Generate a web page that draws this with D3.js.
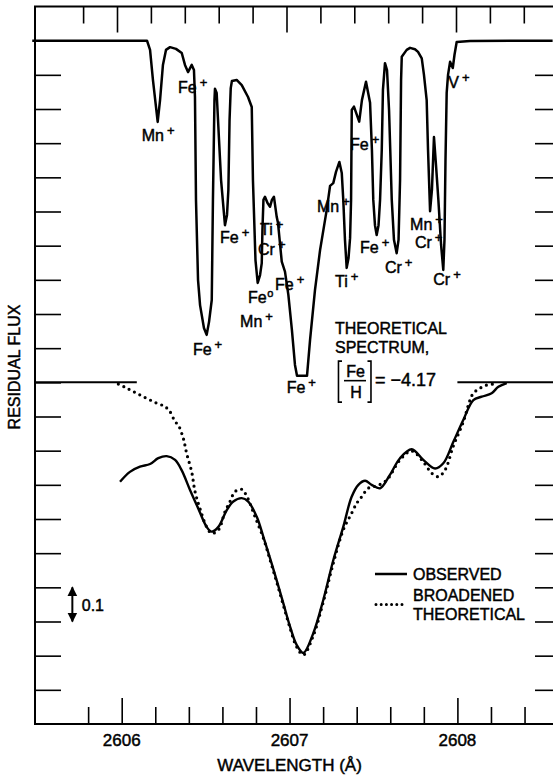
<!DOCTYPE html>
<html>
<head>
<meta charset="utf-8">
<script src="https://cdn.jsdelivr.net/npm/d3@7"></script>
<style>
  html, body { margin: 0; padding: 0; background: #fff; }
  svg { display: block; font-family: "Liberation Sans", Arial, Helvetica, sans-serif; }
  svg text { fill: #000; stroke: #000; stroke-width: 0.45px; }
</style>
</head>
<body>
<svg id="chart" width="553" height="775"></svg>
<script>
// ---- Theoretical spectrum, [Fe/H] = -4.17 (residual flux, drawn one unit higher) ----
const theoWave = [
  2605.50, 2606.177, 2606.195, 2606.212, 2606.240, 2606.254, 2606.271, 2606.289, 2606.313, 2606.348,
  2606.382, 2606.401, 2606.419, 2606.441, 2606.454, 2606.460, 2606.466, 2606.478, 2606.490, 2606.513,
  2606.529, 2606.543, 2606.559, 2606.566, 2606.575, 2606.578, 2606.588, 2606.602, 2606.614, 2606.637,
  2606.649, 2606.657, 2606.664, 2606.671, 2606.678, 2606.706, 2606.736, 2606.773, 2606.795, 2606.802,
  2606.817, 2606.830, 2606.844, 2606.854, 2606.858, 2606.864, 2606.873, 2606.888, 2606.903, 2606.914,
  2606.926, 2606.942, 2606.950, 2606.972, 2606.991, 2607.011, 2607.032, 2607.050, 2607.062, 2607.121,
  2607.139, 2607.168, 2607.198, 2607.237, 2607.257, 2607.276, 2607.292, 2607.312, 2607.326, 2607.335,
  2607.345, 2607.355, 2607.366, 2607.375, 2607.381, 2607.385, 2607.398, 2607.429, 2607.445, 2607.469,
  2607.493, 2607.504, 2607.512, 2607.522, 2607.532, 2607.543, 2607.552, 2607.562, 2607.569, 2607.581,
  2607.593, 2607.605, 2607.621, 2607.634, 2607.650, 2607.661, 2607.670, 2607.676, 2607.680, 2607.709,
  2607.729, 2607.758, 2607.776, 2607.798, 2607.811, 2607.827, 2607.835, 2607.847, 2607.858, 2607.870,
  2607.882, 2607.896, 2607.912, 2607.925, 2607.932, 2607.938, 2607.945, 2607.953, 2607.965, 2607.981,
  2607.991, 2608.004, 2608.083, 2608.57
];
const theoFlux = [
  1.000, 1.000, 0.973, 0.885, 0.762, 0.826, 0.929, 0.973, 0.981, 0.976,
  0.964, 0.929, 0.908, 0.929, 0.914, 0.835, 0.534, 0.300, 0.226, 0.159,
  0.139, 0.177, 0.241, 0.534, 0.826, 0.859, 0.847, 0.709, 0.592, 0.460,
  0.490, 0.563, 0.768, 0.861, 0.882, 0.885, 0.870, 0.835, 0.806, 0.592,
  0.358, 0.291, 0.314, 0.349, 0.446, 0.534, 0.543, 0.525, 0.514, 0.534,
  0.543, 0.485, 0.466, 0.353, 0.324, 0.256, 0.153, 0.051, 0.019, 0.019,
  0.124, 0.270, 0.387, 0.504, 0.575, 0.583, 0.616, 0.645, 0.613, 0.534,
  0.417, 0.335, 0.364, 0.422, 0.534, 0.797, 0.807, 0.763, 0.826, 0.880,
  0.818, 0.680, 0.534, 0.460, 0.431, 0.460, 0.534, 0.680, 0.856, 0.934,
  0.914, 0.797, 0.534, 0.417, 0.378, 0.417, 0.592, 0.885, 0.953, 0.973,
  0.979, 0.975, 0.967, 0.948, 0.900, 0.826, 0.680, 0.501, 0.563, 0.718,
  0.636, 0.534, 0.402, 0.329, 0.417, 0.651, 0.847, 0.900, 0.938, 0.920,
  0.958, 0.996, 0.999, 1.000
];

// ---- Observed spectrum ----
const obsWave = [
  2605.990, 2606.049, 2606.109, 2606.169, 2606.218, 2606.268, 2606.318, 2606.357, 2606.407, 2606.456,
  2606.506, 2606.536, 2606.576, 2606.626, 2606.665, 2606.715, 2606.754, 2606.804, 2606.844, 2606.884,
  2606.923, 2606.963, 2607.003, 2607.043, 2607.082, 2607.141, 2607.201, 2607.261, 2607.320, 2607.370,
  2607.410, 2607.450, 2607.489, 2607.539, 2607.598, 2607.658, 2607.728, 2607.797, 2607.867, 2607.916,
  2607.976, 2608.035, 2608.095, 2608.145, 2608.204, 2608.244, 2608.294
];
const obsFlux = [
  0.709, 0.738, 0.753, 0.761, 0.778, 0.784, 0.773, 0.743, 0.685, 0.631,
  0.577, 0.563, 0.577, 0.626, 0.651, 0.661, 0.651, 0.607, 0.548, 0.485,
  0.421, 0.353, 0.285, 0.231, 0.208, 0.265, 0.363, 0.480, 0.577, 0.665,
  0.700, 0.712, 0.700, 0.690, 0.729, 0.778, 0.804, 0.773, 0.748, 0.763,
  0.826, 0.890, 0.948, 0.958, 0.968, 0.987, 0.998
];

// ---- Broadened theoretical spectrum ----
const brdWave = [
  2605.980, 2606.030, 2606.089, 2606.149, 2606.209, 2606.258, 2606.288, 2606.318, 2606.337, 2606.367,
  2606.387, 2606.417, 2606.437, 2606.466, 2606.506, 2606.536, 2606.576, 2606.615, 2606.645, 2606.675,
  2606.715, 2606.745, 2606.794, 2606.844, 2606.884, 2606.923, 2606.963, 2607.003, 2607.043, 2607.082,
  2607.141, 2607.201, 2607.261, 2607.320, 2607.370, 2607.400, 2607.430, 2607.469, 2607.519, 2607.579,
  2607.658, 2607.728, 2607.797, 2607.847, 2607.886, 2607.926, 2607.976, 2608.035, 2608.075, 2608.095,
  2608.135, 2608.175, 2608.215
];
const brdFlux = [
  0.995, 0.983, 0.968, 0.953, 0.939, 0.929, 0.914, 0.885, 0.875, 0.836,
  0.792, 0.738, 0.680, 0.631, 0.577, 0.558, 0.568, 0.621, 0.651, 0.680,
  0.687, 0.667, 0.607, 0.544, 0.480, 0.416, 0.348, 0.281, 0.225, 0.202,
  0.258, 0.357, 0.471, 0.568, 0.617, 0.646, 0.665, 0.690, 0.697, 0.714,
  0.773, 0.799, 0.767, 0.734, 0.724, 0.743, 0.814, 0.884, 0.948, 0.968,
  0.983, 0.992, 0.995
];

// ---- Continuum reference segments of the lower spectrum (flux = 1) ----
const contLeft = [2605.48, 2606.09];
const contRight = [2608.00, 2608.57];

// ---- Line identifications in the theoretical spectrum ----
const ionText  = ["Mn", "Fe", "Fe", "Ti", "Cr", "Fe", "Mn", "Fe", "Fe", "Fe",
                  "Mn", "Ti", "Fe", "Cr", "Mn", "Cr", "Cr", "Fe", "V"];
const ionSup   = ["+", "+", "+", "+", "+", "o", "+", "+", "+", "+",
                  "+", "+", "+", "+", "+", "+", "+", "+", "+"];
const ionWave  = [2606.146, 2606.360, 2606.608, 2606.844, 2606.832, 2606.773, 2606.726, 2606.932, 2606.448, 2607.001,
                  2607.180, 2607.286, 2607.434, 2607.581, 2607.729, 2607.758, 2607.866, 2607.375, 2607.955];
const ionLevel = [1.705, 1.847, 1.408, 1.431, 1.373, 1.232, 1.163, 1.270, 1.080, 0.968,
                  1.499, 1.280, 1.378, 1.319, 1.446, 1.393, 1.285, 1.680, 1.861];

// ---- Axis ticks ----
const xTicks = [2605.8, 2606.0, 2606.2, 2606.4, 2606.6, 2606.8, 2607.0,
                2607.2, 2607.4, 2607.6, 2607.8, 2608.0, 2608.2, 2608.4];
const xMajor = [2606, 2607, 2608];
const xLabels = ["2606", "2607", "2608"];
const yTicksLeft = [0.1, 0.2, 0.3, 0.4, 0.5, 0.6, 0.7, 0.8, 0.9, 1.0,
                    1.1, 1.2, 1.3, 1.4, 1.5, 1.6, 1.7, 1.8, 1.9, 2.0];
const yTicksRight = [0.1, 0.2, 0.3, 0.4, 0.5, 0.6, 0.7, 0.8, 0.9,
                     1.1, 1.2, 1.3, 1.4, 1.5, 1.6, 1.7, 1.8, 1.9];

// ---- Layout ----
const svg = d3.select("#chart");
const frame = { left: 35, right: 553, top: 6.5, bottom: 724 };

// upper and lower wavelength scales carry their own tick positions
const xTop = d3.scaleLinear().domain([2606, 2608]).range([117, 456]);
const xBot = d3.scaleLinear().domain([2606, 2608]).range([121.7, 457.4]);
// one flux axis: lower panel 0..1, upper panel shifted by +1
const y = d3.scaleLinear().domain([0, 2.1]).range([frame.bottom, frame.top]);

// ---- Frame ----
svg.append("path")
  .attr("d", `M${frame.right},${frame.top}H${frame.left}V${frame.bottom}H${frame.right}`)
  .attr("fill", "none").attr("stroke", "#000").attr("stroke-width", 2);

// ---- Ticks ----
function styleTicks(g) {
  g.select(".domain").remove();
  g.selectAll(".tick line").attr("stroke", "#000").attr("stroke-width", 1.6);
  g.selectAll(".tick text").remove();
}
const gTopAxis = svg.append("g").attr("transform", `translate(0,${frame.top})`)
  .call(d3.axisBottom(xTop).tickValues(xTicks).tickSize(17).tickFormat(""));
styleTicks(gTopAxis);
gTopAxis.selectAll(".tick line").filter(d => xMajor.includes(d)).attr("y2", 26);

const gBotAxis = svg.append("g").attr("transform", `translate(0,${frame.bottom})`)
  .call(d3.axisTop(xBot).tickValues(xTicks).tickSize(17).tickFormat(""));
styleTicks(gBotAxis);
gBotAxis.selectAll(".tick line").filter(d => xMajor.includes(d)).attr("y2", -26);

const gLeftAxis = svg.append("g").attr("transform", `translate(${frame.left},0)`)
  .call(d3.axisRight(y).tickValues(yTicksLeft).tickSize(26).tickFormat(""));
styleTicks(gLeftAxis);

const gRightAxis = svg.append("g").attr("transform", `translate(${frame.right},0)`)
  .call(d3.axisLeft(y).tickValues(yTicksRight).tickSize(18).tickFormat(""));
styleTicks(gRightAxis);

// x tick labels and titles
svg.append("g").selectAll("text").data(xMajor).join("text")
  .attr("x", d => xBot(d)).attr("y", 746)
  .attr("text-anchor", "middle").attr("font-size", 17)
  .text((d, i) => xLabels[i]);

svg.append("text").attr("x", xBot(2607)).attr("y", 771)
  .attr("text-anchor", "middle").attr("font-size", 17)
  .text("WAVELENGTH (Å)");

svg.append("text").attr("transform", "translate(20,367) rotate(-90)")
  .attr("text-anchor", "middle").attr("font-size", 16)
  .text("RESIDUAL FLUX");

// ---- Spectra ----
const theo = theoWave.map((w, i) => [w, theoFlux[i] + 1]);
const obs = obsWave.map((w, i) => [w, obsFlux[i]]);
const brd = brdWave.map((w, i) => [w, brdFlux[i]]);

svg.append("path").datum(theo)
  .attr("d", d3.line().x(d => xTop(d[0])).y(d => y(d[1])))
  .attr("fill", "none").attr("stroke", "#000").attr("stroke-width", 2.5)
  .attr("stroke-linejoin", "round");

const lineBot = d3.line().x(d => xBot(d[0])).y(d => y(d[1])).curve(d3.curveCatmullRom.alpha(0.5));

[contLeft, contRight].forEach(seg => {
  svg.append("line")
    .attr("x1", xBot(seg[0])).attr("x2", xBot(seg[1]))
    .attr("y1", y(1)).attr("y2", y(1))
    .attr("stroke", "#000").attr("stroke-width", 2);
});

svg.append("path").datum(obs)
  .attr("d", lineBot)
  .attr("fill", "none").attr("stroke", "#000").attr("stroke-width", 2.4)
  .attr("stroke-linejoin", "round");

svg.append("path").datum(brd)
  .attr("d", lineBot)
  .attr("fill", "none").attr("stroke", "#000").attr("stroke-width", 3.2)
  .attr("stroke-linecap", "round").attr("stroke-dasharray", "0 6");

// ---- Line identifications ----
const ionG = svg.append("g").attr("font-size", 16);
ionText.forEach((t, i) => {
  const tx = ionG.append("text").attr("x", xTop(ionWave[i])).attr("y", y(ionLevel[i]));
  tx.append("tspan").text(t);
  tx.append("tspan").attr("dx", ionSup[i] === "o" ? 0.5 : 3).attr("dy", -6)
    .attr("font-size", ionSup[i] === "o" ? 11 : 13).text(ionSup[i]);
});

// ---- Caption: THEORETICAL SPECTRUM, [Fe/H] = -4.17 ----
const cx = xTop(2607.286), cy = y(1.141);
const cap = svg.append("g").attr("transform", `translate(${cx},${cy})`).attr("font-size", 16);
cap.append("text").attr("x", 0).attr("y", 0).text("THEORETICAL");
cap.append("text").attr("x", 0).attr("y", 18.5).text("SPECTRUM,");
cap.append("path")
  .attr("d", "M7,27H3.5V68H7 M32.5,27H36V68H32.5")
  .attr("fill", "none").attr("stroke", "#000").attr("stroke-width", 1.6);
cap.append("text").attr("x", 20.5).attr("y", 42.5).attr("text-anchor", "middle").text("Fe");
cap.append("line").attr("x1", 9).attr("x2", 31).attr("y1", 46.5).attr("y2", 46.5)
  .attr("stroke", "#000").attr("stroke-width", 1.6);
cap.append("text").attr("x", 21).attr("y", 63.5).attr("text-anchor", "middle").text("H");
cap.append("text").attr("x", 40).attr("y", 52).attr("font-size", 18).text("= −4.17");

// ---- Scale marker: 0.1 in residual flux ----
const mx = xBot(2605.706);
svg.append("defs").append("marker")
  .attr("id", "head").attr("viewBox", "0 0 10 10").attr("refX", 9).attr("refY", 5)
  .attr("markerWidth", 5).attr("markerHeight", 6).attr("orient", "auto-start-reverse")
  .append("path").attr("d", "M0,0L10,5L0,10Z").attr("fill", "#000");
svg.append("line")
  .attr("x1", mx).attr("x2", mx).attr("y1", y(0.4)).attr("y2", y(0.3))
  .attr("stroke", "#000").attr("stroke-width", 2)
  .attr("marker-start", "url(#head)").attr("marker-end", "url(#head)");
svg.append("text").attr("x", xBot(2605.762)).attr("y", y(0.332))
  .attr("font-size", 16).text("0.1");

// ---- Legend ----
const lx = xBot(2607.509), ly = y(0.439);
const leg = svg.append("g").attr("transform", `translate(${lx},${ly})`).attr("font-size", 16);
leg.append("line").attr("x1", 0).attr("x2", 32).attr("y1", 0).attr("y2", 0)
  .attr("stroke", "#000").attr("stroke-width", 2.4);
leg.append("text").attr("x", 38).attr("y", 6).text("OBSERVED");
leg.append("line").attr("x1", 1).attr("x2", 32).attr("y1", 30.5).attr("y2", 30.5)
  .attr("stroke", "#000").attr("stroke-width", 3).attr("stroke-linecap", "round")
  .attr("stroke-dasharray", "0 5.2");
leg.append("text").attr("x", 38).attr("y", 27).text("BROADENED");
leg.append("text").attr("x", 38).attr("y", 46).text("THEORETICAL");
</script>
</body>
</html>
